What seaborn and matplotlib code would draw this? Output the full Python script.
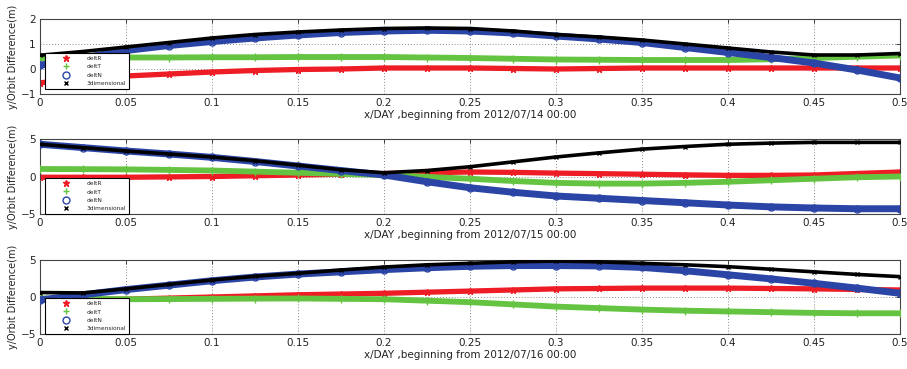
import numpy as np
import pandas as pd
import matplotlib
matplotlib.use("Agg")
import matplotlib.pyplot as plt
from matplotlib.lines import Line2D
import seaborn as sns

sns.set_style("white")
plt.rcParams['font.family'] = ['DejaVu Sans']

# ---------------- data ----------------
x_day = [0.0, 0.025, 0.05, 0.075, 0.1, 0.125, 0.15, 0.175, 0.2, 0.225, 0.25,
         0.275, 0.3, 0.325, 0.35, 0.375, 0.4, 0.425, 0.45, 0.475, 0.5]

series_names = ["deltR", "deltT", "deltN", "3dimensional"]
dates = ["2012/07/14 00:00", "2012/07/15 00:00", "2012/07/16 00:00"]

# Panel 1 (2012/07/14)
p1_R = [-0.55, -0.40, -0.28, -0.20, -0.12, -0.06, -0.02, 0.00, 0.04, 0.04, 0.04,
        0.02, 0.00, 0.02, 0.04, 0.04, 0.04, 0.04, 0.04, 0.04, 0.04]
p1_T = [0.44, 0.45, 0.46, 0.46, 0.47, 0.47, 0.48, 0.48, 0.48, 0.46, 0.44,
        0.41, 0.38, 0.37, 0.36, 0.36, 0.36, 0.39, 0.44, 0.49, 0.54]
p1_N = [0.15, 0.45, 0.74, 0.94, 1.10, 1.24, 1.36, 1.46, 1.52, 1.55, 1.52,
        1.44, 1.32, 1.20, 1.06, 0.86, 0.66, 0.46, 0.24, -0.04, -0.36]
p1_3D = [0.55, 0.70, 0.88, 1.06, 1.24, 1.38, 1.48, 1.56, 1.62, 1.64, 1.62,
         1.52, 1.38, 1.28, 1.16, 1.00, 0.84, 0.68, 0.56, 0.56, 0.62]

# Panel 2 (2012/07/15)
p2_R = [-0.10, -0.10, -0.10, -0.05, 0.00, 0.10, 0.20, 0.30, 0.40, 0.50, 0.60,
        0.55, 0.45, 0.38, 0.30, 0.22, 0.15, 0.15, 0.20, 0.40, 0.60]
p2_T = [1.00, 0.98, 0.95, 0.88, 0.80, 0.65, 0.50, 0.35, 0.20, -0.05, -0.30,
        -0.60, -0.85, -0.95, -0.95, -0.85, -0.70, -0.50, -0.30, -0.10, 0.00]
p2_N = [4.30, 3.85, 3.40, 3.00, 2.55, 2.00, 1.40, 0.80, 0.20, -0.70, -1.50,
        -2.10, -2.60, -2.90, -3.20, -3.50, -3.80, -4.05, -4.20, -4.30, -4.30]
p2_3D = [4.30, 3.85, 3.40, 3.00, 2.60, 2.10, 1.50, 0.90, 0.50, 0.80, 1.30,
         1.95, 2.60, 3.15, 3.65, 4.00, 4.30, 4.45, 4.55, 4.55, 4.55]

# Panel 3 (2012/07/16)
p3_R = [-0.30, -0.30, -0.30, -0.15, 0.00, 0.15, 0.30, 0.40, 0.50, 0.65, 0.80,
        0.95, 1.10, 1.15, 1.20, 1.20, 1.20, 1.15, 1.10, 1.02, 0.95]
p3_T = [-0.20, -0.25, -0.30, -0.28, -0.25, -0.22, -0.20, -0.25, -0.30, -0.50, -0.70,
        -1.00, -1.30, -1.50, -1.70, -1.85, -1.95, -2.05, -2.15, -2.20, -2.20]
p3_N = [-0.40, 0.30, 1.00, 1.60, 2.20, 2.70, 3.10, 3.40, 3.70, 3.95, 4.15,
        4.25, 4.25, 4.20, 4.00, 3.55, 3.00, 2.45, 1.85, 1.20, 0.50]
p3_3D = [0.60, 0.55, 1.10, 1.70, 2.30, 2.80, 3.20, 3.65, 4.05, 4.35, 4.55,
         4.75, 4.85, 4.75, 4.55, 4.35, 4.10, 3.75, 3.40, 3.05, 2.75]

panels = [
    (p1_R, p1_T, p1_N, p1_3D),
    (p2_R, p2_T, p2_N, p2_3D),
    (p3_R, p3_T, p3_N, p3_3D),
]
y_limits = [(-1, 2), (-5, 5), (-5, 5)]
y_ticks = [[-1, 0, 1, 2], [-5, 0, 5], [-5, 0, 5]]
x_ticks = [0, 0.05, 0.1, 0.15, 0.2, 0.25, 0.3, 0.35, 0.4, 0.45, 0.5]
x_ticklabels = ["0", "0.05", "0.1", "0.15", "0.2", "0.25", "0.3", "0.35", "0.4", "0.45", "0.5"]

# ---------------- styles ----------------
colors = ["#ee1c24", "#64c441", "#2b45a6", "#000000"]
markers = ["*", "+", "o", "x"]
band_lw = [3.8, 4.2, 5.0, 2.6]
msize = [5, 6, 5, 3.5]

fig = plt.figure(figsize=(9.07, 3.69), dpi=100)
W, H = 907, 369
axes_px = [(40, 19, 900, 94), (40, 139, 900, 214), (40, 260, 900, 334)]
legend_bottom = [0.067, 0.0, 0.0]

for i, (vals, (l, t, r, b)) in enumerate(zip(panels, axes_px)):
    ax = fig.add_axes([l / W, 1 - b / H, (r - l) / W, (b - t) / H])
    for k, (name, yv) in enumerate(zip(series_names, vals)):
        df = pd.DataFrame({"x": x_day, "y": yv})
        mfc = "none" if markers[k] == "o" else colors[k]
        sns.lineplot(data=df, x="x", y="y", ax=ax, color=colors[k],
                     linewidth=band_lw[k], marker=markers[k], markersize=msize[k],
                     markerfacecolor=mfc, markeredgecolor=colors[k],
                     markeredgewidth=1.0, legend=False, zorder=2 + k)
    ax.set_xlim(0, 0.5)
    ax.set_ylim(*y_limits[i])
    ax.set_xticks(x_ticks)
    ax.set_xticklabels(x_ticklabels)
    ax.set_yticks(y_ticks[i])
    ax.grid(True, linestyle=(0, (1, 2)), color="#8a8a8a", linewidth=0.7)
    ax.set_axisbelow(True)
    ax.tick_params(direction="in", length=3, width=0.6, top=True, right=True,
                   labelsize=7.5, colors="#222222", pad=3)
    for sp in ax.spines.values():
        sp.set_color("#444444")
        sp.set_linewidth(0.8)
    ax.set_xlabel("x/DAY ,beginning from " + dates[i], fontsize=7.5, labelpad=1, color="#222222")
    ax.set_ylabel("y/Orbit Difference(m)", fontsize=7.0, labelpad=2, color="#222222")

    handles = []
    for k in range(4):
        mfc = "none" if markers[k] == "o" else colors[k]
        handles.append(Line2D([], [], linestyle="none", marker=markers[k],
                              color=colors[k], markerfacecolor=mfc,
                              markersize=5 if k < 3 else 3.5, markeredgewidth=1.0))
    leg = ax.legend(handles, series_names, loc="lower left",
                    bbox_to_anchor=(0.006, legend_bottom[i]), fontsize=4.2,
                    frameon=True, fancybox=False, framealpha=1, edgecolor="black",
                    borderpad=0.5, handlelength=6.3, handletextpad=0.3,
                    labelspacing=0.55, borderaxespad=0)
    leg.get_frame().set_linewidth(0.8)
    leg.set_zorder(20)

fig.savefig("out.png", dpi=100)
